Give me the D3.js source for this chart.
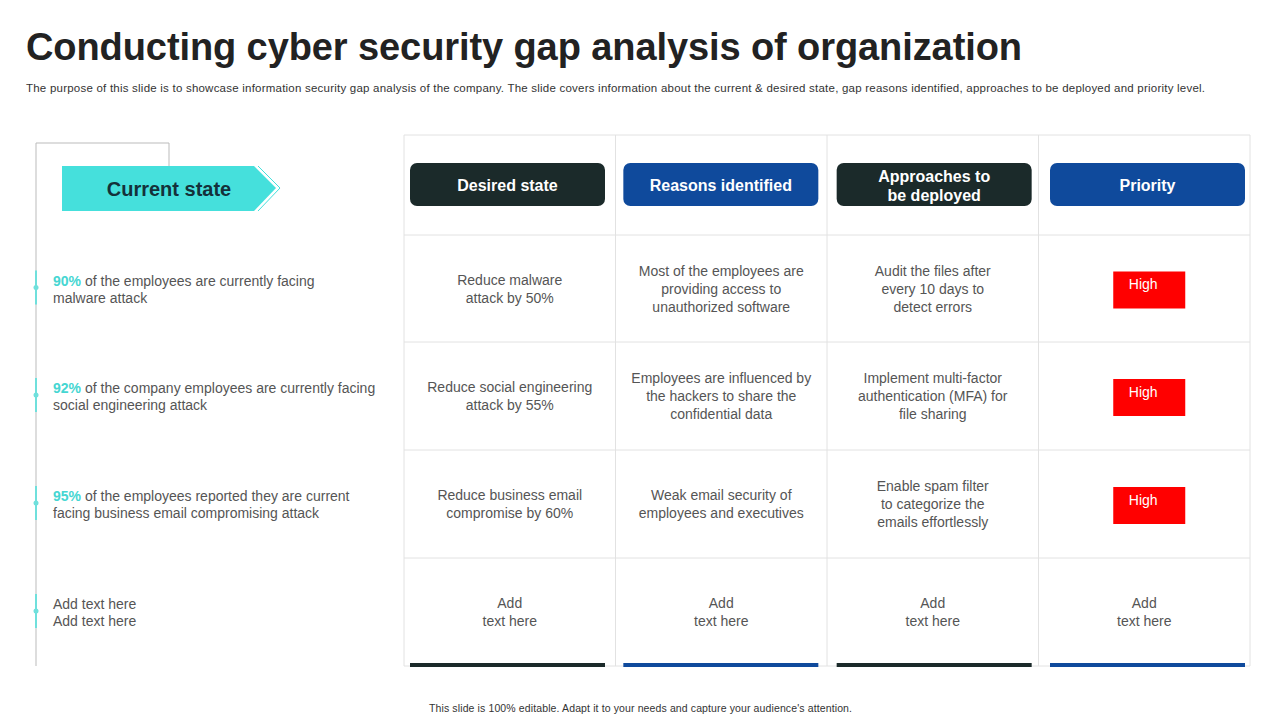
<!DOCTYPE html>
<html><head><meta charset="utf-8">
<script src="https://cdn.jsdelivr.net/npm/d3@7"></script>
<style>body{margin:0;background:#fff}svg{display:block;font-family:Arial,"Liberation Sans",sans-serif}</style>
</head><body><svg id="c" width="1280" height="720"></svg>
<script>
var headers = [["Desired state"], ["Reasons identified"], ["Approaches to", "be deployed"], ["Priority"]];
var headerColors = ["#1b2a2a", "#0f4a9c", "#1b2a2a", "#0f4a9c"];
var pcts = ["90%", "92%", "95%", ""];
var states = [
	["of the employees are currently facing", "malware attack"],
	["of the company employees are currently facing", "social engineering attack"],
	["of the employees reported they are current", "facing business email compromising attack"],
	["Add text here", "Add text here"]
];
var cells = [
	[["Reduce malware", "attack by 50%"], ["Most of the employees are", "providing access to", "unauthorized software"], ["Audit the files after", "every 10 days to", "detect errors"], "High"],
	[["Reduce social engineering", "attack by 55%"], ["Employees are influenced by", "the hackers to share the", "confidential data"], ["Implement multi-factor", "authentication (MFA) for", "file sharing"], "High"],
	[["Reduce business email", "compromise by 60%"], ["Weak email security of", "employees and executives"], ["Enable spam filter", "to categorize the", "emails effortlessly"], "High"],
	[["Add", "text here"], ["Add", "text here"], ["Add", "text here"], ["Add", "text here"]]
];

var svg = d3.select('#c');

svg.append('text').attr('x', 26).attr('y', 60).attr('font-size', 38).attr('font-weight', 'bold')
	.attr('fill', '#222').attr('textLength', 996).text('Conducting cyber security gap analysis of organization');
svg.append('text').attr('x', 26).attr('y', 92).attr('font-size', 11.5).attr('fill', '#333').attr('textLength', 1179)
	.text('The purpose of this slide is to showcase information security gap analysis of the company. The slide covers information about the current &  desired state, gap reasons identified, approaches to be deployed and priority level.');
svg.append('text').attr('x', 429).attr('y', 712).attr('font-size', 10.5).attr('fill', '#333').attr('textLength', 423)
	.text('This slide is 100% editable.  Adapt it to your needs and capture your audience\'s attention.');

// table grid
var x = d3.scaleLinear().domain([0, 4]).range([404, 1250]);
var bx = d3.scaleLinear().domain([0, 3]).range([410, 1050]);
var rowY = [135, 235, 342, 450, 558, 666];
var grid = svg.append('g').attr('stroke', '#e2e2e2').attr('fill', 'none');
d3.range(5).forEach(function(i) { grid.append('line').attr('x1', x(i)).attr('x2', x(i)).attr('y1', 135).attr('y2', 666); });
rowY.forEach(function(y) { grid.append('line').attr('x1', 404).attr('x2', 1250).attr('y1', y).attr('y2', y); });

headers.forEach(function(h, i) {
	var x0 = bx(i), w = 195;
	svg.append('rect').attr('x', x0).attr('y', 163).attr('width', w).attr('height', 43).attr('rx', 7).attr('fill', headerColors[i]);
	var t = svg.append('text').attr('text-anchor', 'middle').attr('fill', '#fff').attr('font-size', 16).attr('font-weight', 'bold');
	h.forEach(function(s, k) {
		t.append('tspan').attr('x', x0 + w / 2).attr('y', 191 + (k - (h.length - 1) / 2) * 19).text(s);
	});
	svg.append('rect').attr('x', x0).attr('y', 663).attr('width', w).attr('height', 4).attr('fill', headerColors[i]);
});

cells.forEach(function(row, r) {
	var cy = (rowY[r + 1] + rowY[r + 2]) / 2;
	row.forEach(function(c, i) {
		var cx = (x(i) + x(i + 1)) / 2;
		if (typeof c === 'string') {
			svg.append('rect').attr('x', cx - 31).attr('y', cy - 17).attr('width', 72).attr('height', 37).attr('fill', '#f00');
			svg.append('text').attr('x', cx - 1).attr('y', cy + 0.5).attr('text-anchor', 'middle').attr('fill', '#fff').attr('font-size', 14).text(c);
			return;
		}
		var t = svg.append('text').attr('text-anchor', 'middle').attr('fill', '#555').attr('font-size', 14);
		c.forEach(function(s, k) {
			t.append('tspan').attr('x', cx).attr('y', cy + 5 + (k - (c.length - 1) / 2) * 18).text(s);
		});
	});
});

// left panel
svg.append('path').attr('d', 'M36,666 V143 H169 V166').attr('fill', 'none').attr('stroke', '#bbb');
svg.append('path').attr('d', 'M258,166 L280,188 L258,211').attr('fill', 'none').attr('stroke', '#45e0dc');
svg.append('path').attr('d', 'M62,166 H254 L276,188 L254,211 H62 Z').attr('fill', '#45e0dc');
svg.append('text').attr('x', 169).attr('y', 196).attr('text-anchor', 'middle').attr('font-size', 20)
	.attr('font-weight', 'bold').attr('fill', '#14313a').text('Current state');

states.forEach(function(s, r) {
	var cy = (rowY[r + 1] + rowY[r + 2]) / 2 - 1;
	svg.append('line').attr('x1', 36).attr('x2', 36).attr('y1', cy - 17).attr('y2', cy + 17).attr('stroke', '#6fe0dc').attr('stroke-width', 2);
	svg.append('circle').attr('cx', 36).attr('cy', cy).attr('r', 2.5).attr('fill', '#6fe0dc');
	var t = svg.append('text').attr('font-size', 14).attr('fill', '#555');
	var t1 = t.append('tspan').attr('x', 53).attr('y', cy - 2);
	if (pcts[r]) t1.append('tspan').attr('fill', '#45d6d2').attr('font-weight', 'bold').text(pcts[r] + ' ');
	t1.append('tspan').text(s[0]);
	t.append('tspan').attr('x', 53).attr('y', cy + 15).text(s[1]);
});
</script></body></html>
